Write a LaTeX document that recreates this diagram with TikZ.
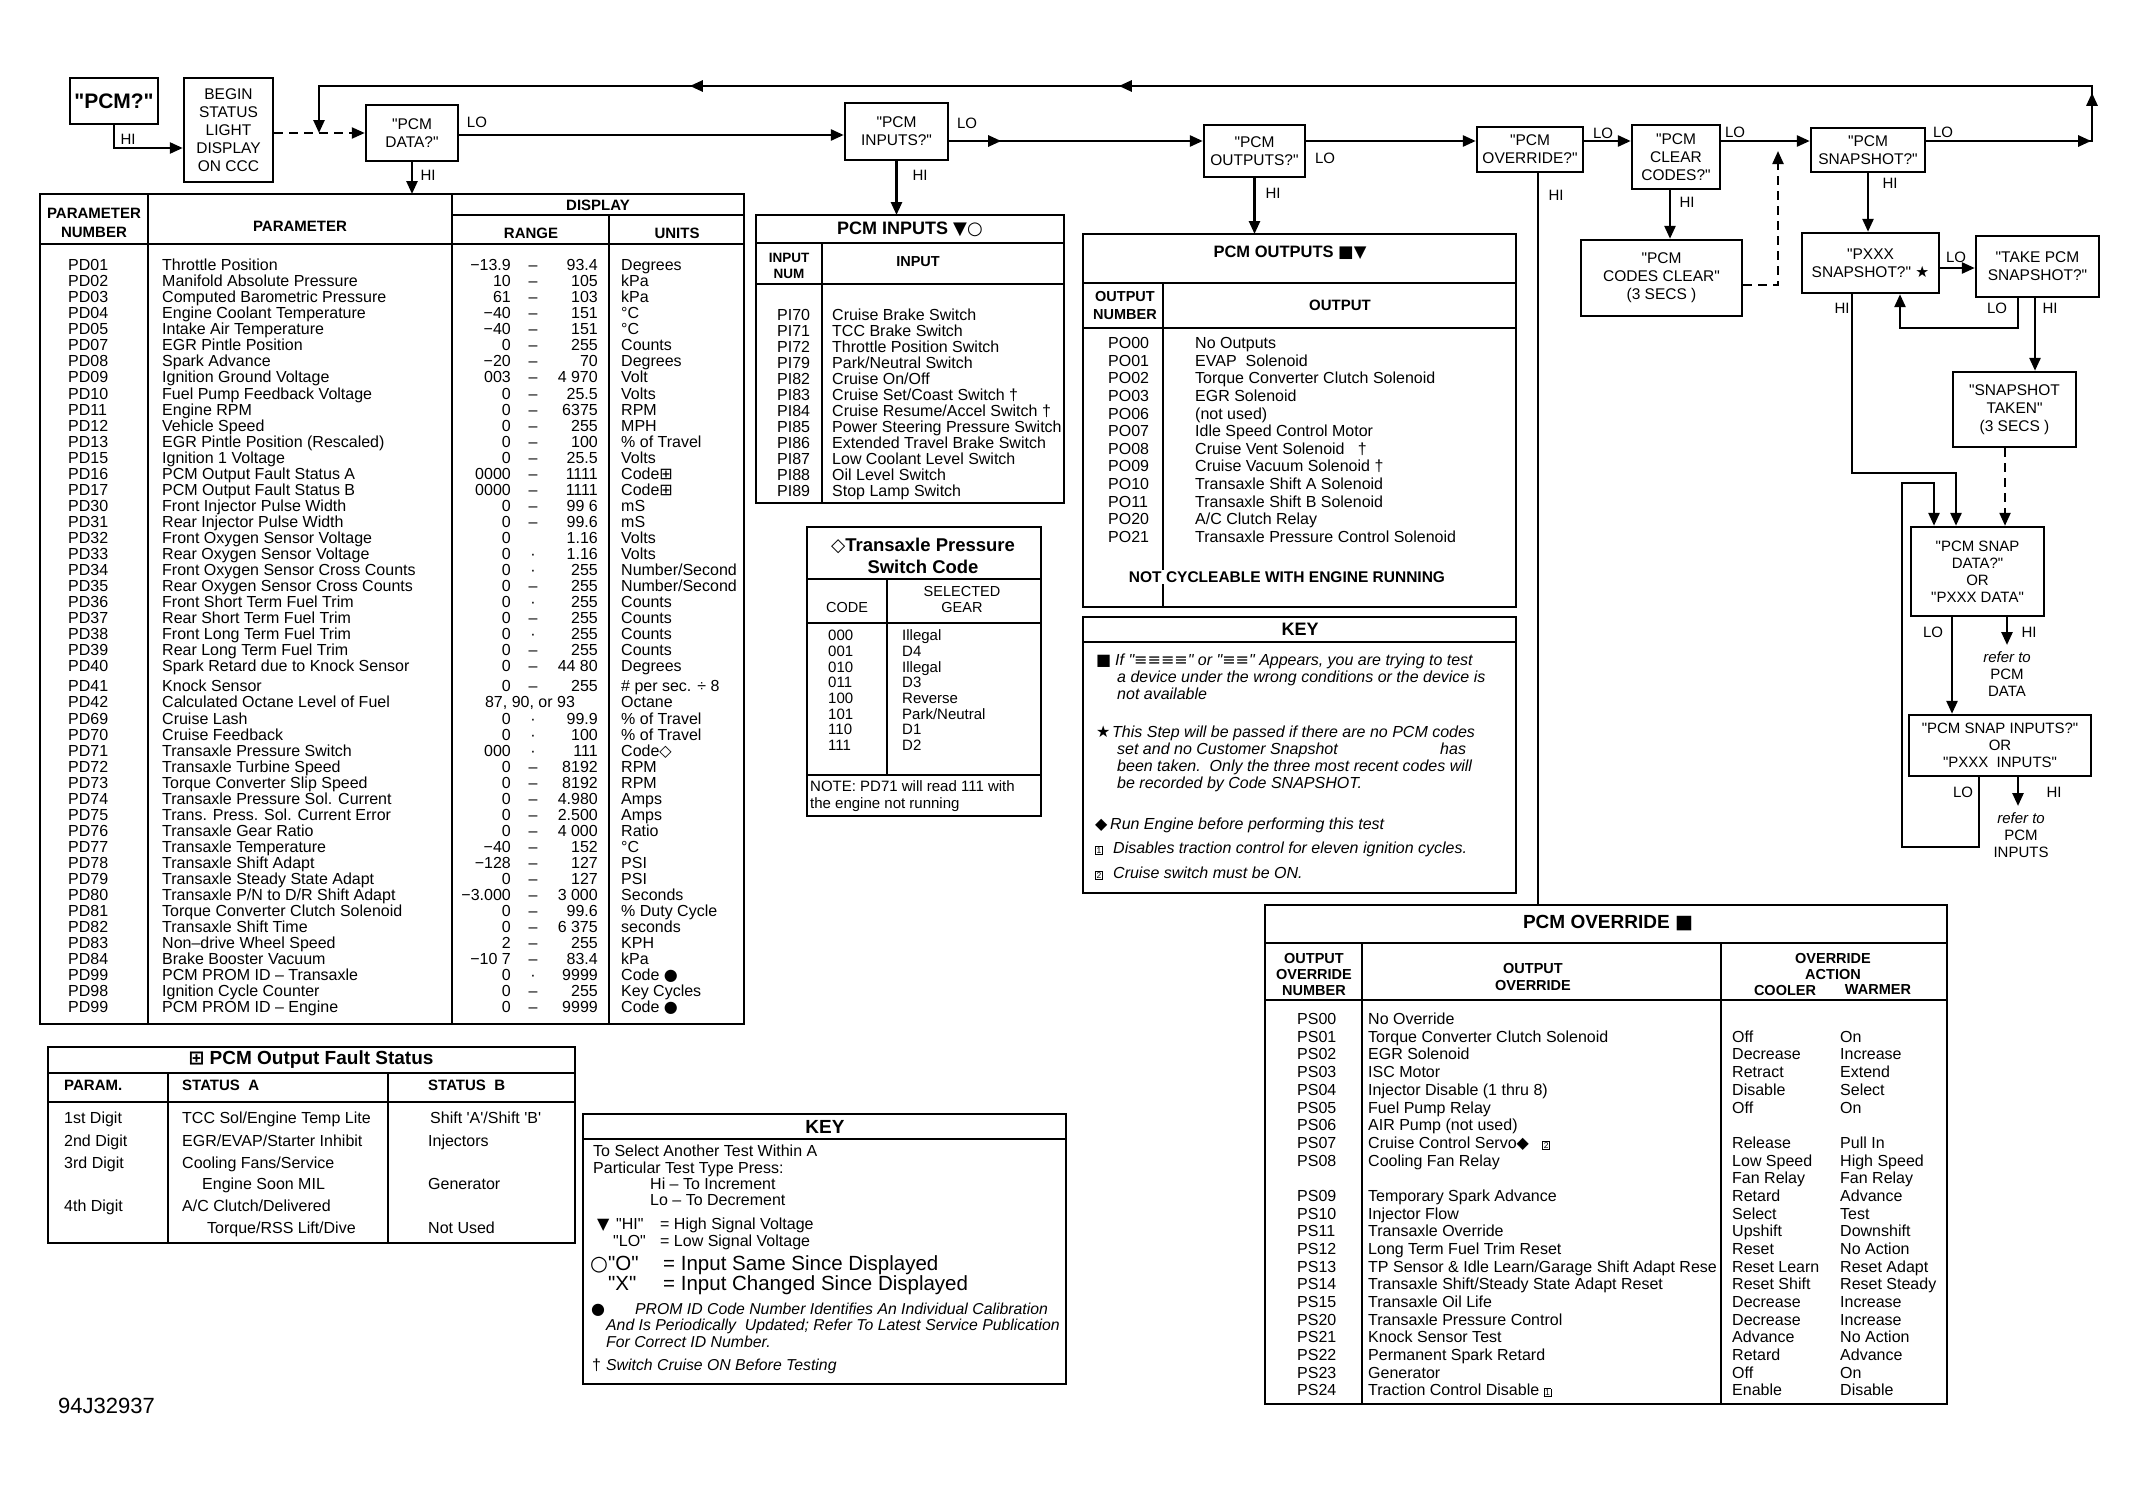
\documentclass[tikz,border=0pt]{standalone}
\usepackage{fontspec}
\setmainfont{Liberation Sans}
\newfontfamily\qf{Liberation Sans}
\newfontfamily\symf{DejaVu Sans}
\usetikzlibrary{arrows.meta,decorations.markings}
\newcommand\myfs[2]{\fontsize{#1}{#2}\selectfont}
\newcommand\symb[1]{{\symf #1}}
\newcommand\bxn[1]{{\setlength\fboxsep{0.6pt}\setlength\fboxrule{0.9pt}\fbox{\upshape\myfs{8.5}{8.5}#1}}}
\begin{document}
\qf
\begin{tikzpicture}[x=1pt,y=-1pt,
  flowbox/.style={draw,line width=2.4pt,align=center,inner sep=2pt,font=\myfs{15.5}{18}},
  lab/.style={inner sep=0,font=\myfs{15}{15}},
  ln/.style={line width=2.6pt},
  tip/.style={-{Triangle[length=13pt,width=11pt]}},
  arr/.style={ln,tip},
  dsh/.style={line width=2.2pt,dash pattern=on 9pt off 6pt},
  outer/.style={line width=2.6pt},
  div/.style={line width=1.8pt},
  tt/.style={inner sep=0,anchor=mid west,font=\myfs{16}{16}},
  hd/.style={inner sep=0,align=center,font=\bfseries\myfs{14.5}{18}},
  kt/.style={inner sep=0,anchor=mid west,font=\myfs{16}{16}},
  kti/.style={inner sep=0,anchor=mid west,font=\itshape\myfs{15.8}{16}},
  kb/.style={inner sep=0,anchor=mid west,font=\myfs{20.5}{20.5}},
]
\fill[white] (0,0) rectangle (2137,1496);
\useasboundingbox (0,0) rectangle (2137,1496);

% ---------------- flow boxes ----------------
\node[flowbox,line width=2.8pt,minimum width=88,minimum height=46,font=\bfseries\myfs{21}{22}] (pcmq) at (114,101) {"PCM?"};
\node[flowbox,minimum width=89,minimum height=104] (begin) at (228.5,130) {BEGIN\\STATUS\\LIGHT\\DISPLAY\\ON CCC};
\node[flowbox,minimum width=92,minimum height=56] (data) at (412,133) {"PCM\\DATA?"};
\node[flowbox,minimum width=103,minimum height=57] (inputs) at (896.5,131.5) {"PCM\\INPUTS?"};
\node[flowbox,minimum width=101,minimum height=52] (outputs) at (1254.5,151) {"PCM\\OUTPUTS?"};
\node[flowbox,minimum width=106,minimum height=45] (override) at (1530,149.5) {"PCM\\OVERRIDE?"};
\node[flowbox,minimum width=88,minimum height=64] (clear) at (1676,157) {"PCM\\CLEAR\\CODES?"};
\node[flowbox,minimum width=114,minimum height=44] (snap) at (1868,150) {"PCM\\SNAPSHOT?"};
\node[flowbox,minimum width=161,minimum height=76] (cclear) at (1661.5,278) {"PCM\\CODES CLEAR"\\(3 SECS )};
\node[flowbox,minimum width=137,minimum height=60] (pxxx) at (1870.5,263) {"PXXX\\SNAPSHOT?" \symb{★}};
\node[flowbox,minimum width=123,minimum height=61] (take) at (2037.5,266.5) {"TAKE PCM\\SNAPSHOT?"};
\node[flowbox,minimum width=123,minimum height=75] (taken) at (2014.5,409.5) {"SNAPSHOT\\TAKEN"\\(3 SECS )};
\node[flowbox,minimum width=133,minimum height=89,font=\myfs{15}{17}] (sdata) at (1977.5,571.5) {"PCM SNAP\\DATA?"\\OR\\"PXXX DATA"};
\node[flowbox,minimum width=182,minimum height=61,font=\myfs{15}{17}] (sinputs) at (2000,745.5) {"PCM SNAP INPUTS?"\\OR\\"PXXX\ \ INPUTS"};

% ---------------- coordinates ----------------
\coordinate (Y1) at (0,135);
\coordinate (Y2) at (0,141);
\coordinate (Yd) at (0,133);
\coordinate (Yb) at (0,148);
\coordinate (R1) at (2092,141);
\coordinate (Rtop) at (2092,86);
\coordinate (Ltop) at (319,86);
\coordinate (Ldash) at (319,133);
\coordinate (ptop) at (0,194);
\coordinate (itop) at (0,215);
\coordinate (otop) at (0,234);
\coordinate (ovx) at (1538,0);
\coordinate (ovtop) at (0,905);
\coordinate (cx) at (1670,0);
\coordinate (tx) at (2035,0);
\coordinate (tlx) at (2018,0);
\coordinate (plx) at (1900,0);
\coordinate (Ylo) at (0,328);
\coordinate (Yp) at (0,268);
\coordinate (Yc) at (0,285);
\coordinate (dx) at (1778,0);
\coordinate (Yup) at (0,151);
\coordinate (px2) at (1852,0);
\coordinate (Y473) at (0,473);
\coordinate (sx) at (1956,0);
\coordinate (tdx) at (2005,0);
\coordinate (lx0) at (1902,0);
\coordinate (lx1) at (1979,0);
\coordinate (lx2) at (1934,0);
\coordinate (Y483) at (0,483);
\coordinate (Y847) at (0,847);
\coordinate (lox) at (1952,0);
\coordinate (hix) at (2007,0);
\coordinate (rd) at (2007,645);
\coordinate (hix2) at (2018,0);
\coordinate (ri) at (2018,806);

% ---------------- connectors ----------------
\draw[arr] (pcmq.south) |- (begin.west |- Yb);
\draw[dsh,tip] (begin.east |- Yd) -- (data.west |- Yd);
\draw[arr] (data.east |- Y1) -- (inputs.west |- Y1);
\draw[arr,postaction={decorate},decoration={markings,mark=at position 52pt with {\arrow{Triangle[length=13pt,width=11pt]}}}]
  (inputs.east |- Y2) -- (outputs.west |- Y2);
\draw[arr] (outputs.east |- Y2) -- (override.west |- Y2);
\draw[arr] (override.east |- Y2) -- (clear.west |- Y2);
\draw[arr] (clear.east |- Y2) -- (snap.west |- Y2);
\draw[arr,postaction={decorate},decoration={markings,
   mark=at position 165pt with {\arrow{Triangle[length=13pt,width=11pt]}},
   mark=at position 214pt with {\arrow{Triangle[length=13pt,width=11pt]}},
   mark=at position 1194pt with {\arrow{Triangle[length=13pt,width=11pt]}},
   mark=at position 1623pt with {\arrow{Triangle[length=13pt,width=11pt]}}}]
  (snap.east |- Y2) -- (R1) -- (Rtop) -- (Ltop) -- (Ldash);
\draw[arr] (data.south) -- (data.south |- ptop);
\draw[arr] (inputs.south) -- (inputs.south |- itop);
\draw[arr] (outputs.south) -- (outputs.south |- otop);
\draw[ln] (override.south -| ovx) -- (ovx |- ovtop);
\draw[arr] (clear.south -| cx) -- (cclear.north -| cx);
\draw[arr] (snap.south) -- (pxxx.north -| snap.south);
\draw[dsh,tip] (cclear.east |- Yc) -- (dx |- Yc) -- (dx |- Yup);
\draw[arr] (pxxx.east |- Yp) -- (take.west |- Yp);
\draw[arr] (take.south -| tlx) -- (tlx |- Ylo) -- (plx |- Ylo) -- (pxxx.south -| plx);
\draw[arr] (take.south -| tx) -- (taken.north -| tx);
\draw[arr] (pxxx.south -| px2) -- (px2 |- Y473) -- (sx |- Y473) -- (sdata.north -| sx);
\draw[dsh,tip] (taken.south -| tdx) -- (sdata.north -| tdx);
\draw[arr] (sinputs.south -| lx1) -- (lx1 |- Y847) -- (lx0 |- Y847) -- (lx0 |- Y483) -- (lx2 |- Y483) -- (sdata.north -| lx2);
\draw[arr] (sdata.south -| lox) -- (sinputs.north -| lox);
\draw[arr] (sdata.south -| hix) -- (rd);
\draw[arr] (sinputs.south -| hix2) -- (ri);

% ---------------- HI / LO labels ----------------
\node[lab] (l1) at (128,139) {HI};
\node[lab] (l2) at (477,122) {LO};
\node[lab] (l3) at (428,175) {HI};
\node[lab] (l4) at (967,123) {LO};
\node[lab] (l5) at (920,175) {HI};
\node[lab] (l6) at (1325,158) {LO};
\node[lab] (l7) at (1273,193) {HI};
\node[lab] (l8) at (1603,133) {LO};
\node[lab] (l9) at (1556,195) {HI};
\node[lab] (l10) at (1735,132) {LO};
\node[lab] (l11) at (1687,202) {HI};
\node[lab] (l12) at (1943,132) {LO};
\node[lab] (l13) at (1890,183) {HI};
\node[lab] (l14) at (1956,257) {LO};
\node[lab] (l15) at (1842,308) {HI};
\node[lab] (l16) at (1997,308) {LO};
\node[lab] (l17) at (2050,308) {HI};
\node[lab] (l18) at (1933,632) {LO};
\node[lab] (l19) at (2029,632) {HI};
\node[lab] (l20) at (1963,792) {LO};
\node[lab] (l21) at (2054,792) {HI};
\node[lab,align=center,font=\myfs{15}{17}] (ref1) at (2007,674) {\textit{refer to}\\PCM\\DATA};
\node[lab,align=center,font=\myfs{15}{17}] (ref2) at (2021,835) {\textit{refer to}\\PCM\\INPUTS};

% ---------------- parameter table ----------------
\draw[outer] (40,194) rectangle (744,1024);
\draw[div] (452,215) -- (744,215);
\draw[outer] (40,244) -- (744,244);
\draw[div] (148,194) -- (148,1024);
\draw[div] (452,194) -- (452,1024);
\draw[div] (609,215) -- (609,1024);
\node[hd,font=\bfseries\myfs{15}{19}] (ph1) at (94,222.5) {PARAMETER\\NUMBER};
\node[hd,font=\bfseries\myfs{15}{19}] (ph2) at (300,226) {PARAMETER};
\node[hd,font=\bfseries\myfs{15}{19}] (ph3) at (598,205) {DISPLAY};
\node[hd,font=\bfseries\myfs{15}{19}] (ph4) at (531,233) {RANGE};
\node[hd,font=\bfseries\myfs{15}{19}] (ph5) at (677,233) {UNITS};
\foreach \na/\nb/\nc/\nd/\ne/\nf [count=\i from 0] in {
PD01/Throttle Position/−13.9/93.4/Degrees/–,
PD02/Manifold Absolute Pressure/10/105/kPa/–,
PD03/Computed Barometric Pressure/61/103/kPa/–,
PD04/Engine Coolant Temperature/−40/151/°C/–,
PD05/Intake Air Temperature/−40/151/°C/–,
PD07/EGR Pintle Position/0/255/Counts/–,
PD08/Spark Advance/−20/70/Degrees/–,
PD09/Ignition Ground Voltage/003/4 970/Volt/–,
PD10/Fuel Pump Feedback Voltage/0/25.5/Volts/–,
PD11/Engine RPM/0/6375/RPM/–,
PD12/Vehicle Speed/0/255/MPH/–,
PD13/EGR Pintle Position (Rescaled)/0/100/\% of Travel/–,
PD15/Ignition 1 Voltage/0/25.5/Volts/–,
PD16/PCM Output Fault Status A/0000/1111/Code\symb{⊞}/–,
PD17/PCM Output Fault Status B/0000/1111/Code\symb{⊞}/–,
PD30/Front Injector Pulse Width/0/99 6/mS/–,
PD31/Rear Injector Pulse Width/0/99.6/mS/–,
PD32/Front Oxygen Sensor Voltage/0/1.16/Volts/{},
PD33/Rear Oxygen Sensor Voltage/0/1.16/Volts/·,
PD34/Front Oxygen Sensor Cross Counts/0/255/{Number/Second}/·,
PD35/Rear Oxygen Sensor Cross Counts/0/255/{Number/Second}/–,
PD36/Front Short Term Fuel Trim/0/255/Counts/·,
PD37/Rear Short Term Fuel Trim/0/255/Counts/–,
PD38/Front Long Term Fuel Trim/0/255/Counts/·,
PD39/Rear Long Term Fuel Trim/0/255/Counts/–,
PD40/Spark Retard due to Knock Sensor/0/44 80/Degrees/–,
PD41/Knock Sensor/0/255/\# per sec. ÷ 8/–,
PD42/Calculated Octane Level of Fuel/{}/{}/Octane/{},
PD69/Cruise Lash/0/99.9/\% of Travel/·,
PD70/Cruise Feedback/0/100/\% of Travel/·,
PD71/Transaxle Pressure Switch/000/111/Code\symb{◇}/·,
PD72/Transaxle Turbine Speed/0/8192/RPM/–,
PD73/Torque Converter Slip Speed/0/8192/RPM/–,
PD74/Transaxle Pressure Sol. Current/0/4.980/Amps/–,
PD75/Trans. Press. Sol. Current Error/0/2.500/Amps/–,
PD76/Transaxle Gear Ratio/0/4 000/Ratio/–,
PD77/Transaxle Temperature/−40/152/°C/–,
PD78/Transaxle Shift Adapt/−128/127/PSI/–,
PD79/Transaxle Steady State Adapt/0/127/PSI/–,
PD80/{Transaxle P/N to D/R Shift Adapt}/−3.000/3 000/Seconds/–,
PD81/Torque Converter Clutch Solenoid/0/99.6/\% Duty Cycle/–,
PD82/Transaxle Shift Time/0/6 375/seconds/–,
PD83/Non–drive Wheel Speed/2/255/KPH/–,
PD84/Brake Booster Vacuum/−10 7/83.4/kPa/–,
PD99/PCM PROM ID – Transaxle/0/9999/Code \symb{●}/·,
PD98/Ignition Cycle Counter/0/255/Key Cycles/–,
PD99/PCM PROM ID – Engine/0/9999/Code \symb{●}/–}{
  \pgfmathsetmacro\yy{268+16.05*\i+(\i>25)*4}
  \node[tt] (pn\i) at (68,\yy) {\na};
  \node[tt] (pp\i) at (162,\yy) {\nb};
  \node[tt,anchor=mid east] (pl\i) at (511,\yy) {\nc};
  \node[tt,anchor=mid] (pd\i) at (533,\yy) {\nf};
  \node[tt,anchor=mid east] (ph\i) at (598,\yy) {\nd};
  \node[tt] (pu\i) at (621,\yy) {\ne};
}
\node[tt,anchor=mid] (p42r) at (530,705.35) {87, 90, or 93};

% ---------------- PCM inputs table ----------------
\draw[outer] (756,215) rectangle (1064,503);
\draw[outer] (756,243) -- (1064,243);
\draw[div] (756,284) -- (1064,284);
\draw[div] (822,243) -- (822,503);
\node[hd,font=\bfseries\myfs{18}{20}] (it) at (910,229) {PCM INPUTS \symb{▼○}};
\node[hd,font=\bfseries\myfs{13.5}{16}] (ih1) at (789,266) {INPUT\\NUM};
\node[hd] (ih2) at (918,262) {INPUT};
\foreach \na/\nb [count=\i from 0] in {
PI70/Cruise Brake Switch, PI71/TCC Brake Switch, PI72/Throttle Position Switch,
PI79/{Park/Neutral Switch}, PI82/{Cruise On/Off}, PI83/{Cruise Set/Coast Switch †},
PI84/{Cruise Resume/Accel Switch †}, PI85/Power Steering Pressure Switch,
PI86/Extended Travel Brake Switch, PI87/Low Coolant Level Switch,
PI88/Oil Level Switch, PI89/Stop Lamp Switch}{
  \pgfmathsetmacro\yy{318+16*\i}
  \node[tt] (in\i) at (777,\yy) {\na};
  \node[tt] (it\i) at (832,\yy) {\nb};
}

% ---------------- Transaxle pressure switch code ----------------
\draw[outer] (807,527) rectangle (1041,816);
\draw[outer] (807,579) -- (1041,579);
\draw[div] (807,623) -- (1041,623);
\draw[div] (887,579) -- (887,775);
\draw[div] (807,775) -- (1041,775);
\node[hd,font=\bfseries\myfs{18.5}{22}] (tt1) at (923,556) {\symb{◇}Transaxle Pressure\\Switch Code};
\node[hd,font=\myfs{14.5}{16}] (th1) at (847,608) {CODE};
\node[hd,font=\myfs{14.5}{16}] (th2) at (962,600) {SELECTED\\GEAR};
\foreach \na/\nb [count=\i from 0] in {000/Illegal, 001/D4, 010/Illegal, 011/D3, 100/Reverse, 101/{Park/Neutral}, 110/D1, 111/D2}{
  \pgfmathsetmacro\yy{638+15.7*\i}
  \node[tt,font=\myfs{15}{16}] (tc\i) at (828,\yy) {\na};
  \node[tt,font=\myfs{15}{16}] (tg\i) at (902,\yy) {\nb};
}
\node[tt,font=\myfs{15}{16}] (tn1) at (810,789) {NOTE: PD71 will read 111 with};
\node[tt,font=\myfs{15}{16}] (tn2) at (810,806) {the engine not running};

% ---------------- PCM outputs table ----------------
\draw[outer] (1083,234) rectangle (1516,607);
\draw[outer] (1083,283) -- (1516,283);
\draw[outer] (1083,328) -- (1516,328);
\draw[div] (1163,283) -- (1163,607);
\node[hd,font=\bfseries\myfs{16.5}{18}] (ot) at (1290,253) {PCM OUTPUTS \symb{■▼}};
\node[hd] (oh1) at (1125,306) {OUTPUT\\NUMBER};
\node[hd,font=\bfseries\myfs{15}{18}] (oh2) at (1340,305) {OUTPUT};
\foreach \na/\nb [count=\i from 0] in {
PO00/No Outputs, PO01/EVAP\ \ Solenoid, PO02/Torque Converter Clutch Solenoid,
PO03/EGR Solenoid, PO06/(not used), PO07/Idle Speed Control Motor,
PO08/Cruise Vent Solenoid\ \ \ †, PO09/Cruise Vacuum Solenoid †,
PO10/Transaxle Shift A Solenoid, PO11/Transaxle Shift B Solenoid,
PO20/{A/C Clutch Relay}, PO21/Transaxle Pressure Control Solenoid}{
  \pgfmathsetmacro\yy{346+17.6*\i}
  \node[tt] (on\i) at (1108,\yy) {\na};
  \node[tt] (ox\i) at (1195,\yy) {\nb};
}
\node[fill=white,inner sep=2pt,font=\bfseries\myfs{15.5}{16}] (onc) at (1287,577) {NOT CYCLEABLE WITH ENGINE RUNNING};

% ---------------- KEY (right) ----------------
\draw[outer] (1083,617) rectangle (1516,893);
\draw[div] (1083,642) -- (1516,642);
\node[hd,font=\bfseries\myfs{18}{18}] (kk) at (1300,629) {KEY};
\node[kt] (k1) at (1096,663) {\symb{■}};
\node[kti,font=\itshape\myfs{16}{16}] (k1b) at (1115,663) {If "\symb{≡≡≡≡}" or "\symb{≡≡}" Appears, you are trying to test};
\node[kti,font=\itshape\myfs{16}{16}] (k2) at (1117,680) {a device under the wrong conditions or the device is};
\node[kti,font=\itshape\myfs{16}{16}] (k3) at (1117,697) {not available};
\node[kt] (k4) at (1096,735) {\symb{★}};
\node[kti,font=\itshape\myfs{16}{16}] (k4b) at (1112,735) {This Step will be passed if there are no PCM codes};
\node[kti,font=\itshape\myfs{16}{16}] (k5) at (1117,752) {set and no Customer Snapshot};
\node[kti,font=\itshape\myfs{16}{16}] (k5b) at (1440,752) {has};
\node[kti,font=\itshape\myfs{16}{16}] (k6) at (1117,769) {been taken.\ \ Only the three most recent codes will};
\node[kti,font=\itshape\myfs{16}{16}] (k7) at (1117,786) {be recorded by Code SNAPSHOT.};
\node[kt] (k8) at (1095,827) {\symb{◆}};
\node[kti,font=\itshape\myfs{16}{16}] (k8b) at (1110,827) {Run Engine before performing this test};
\node[kt] (k9) at (1095,851) {\bxn{1}};
\node[kti,font=\itshape\myfs{16}{16}] (k9b) at (1113,851) {Disables traction control for eleven ignition cycles.};
\node[kt] (k10) at (1095,876) {\bxn{2}};
\node[kti,font=\itshape\myfs{16}{16}] (k10b) at (1113,876) {Cruise switch must be ON.};

% ---------------- PCM override table ----------------
\draw[outer] (1265,905) rectangle (1947,1404);
\draw[outer] (1265,943) -- (1947,943);
\draw[outer] (1265,1000) -- (1947,1000);
\draw[div] (1362,943) -- (1362,1404);
\draw[div] (1721,943) -- (1721,1404);
\node[hd,font=\bfseries\myfs{19}{20}] (vt) at (1608,923) {PCM OVERRIDE \symb{■}};
\node[hd,font=\bfseries\myfs{14.5}{16}] (vh1) at (1314,974) {OUTPUT\\OVERRIDE\\NUMBER};
\node[hd,font=\bfseries\myfs{14.5}{17}] (vh2) at (1533,977) {OUTPUT\\OVERRIDE};
\node[hd,font=\bfseries\myfs{14.5}{16}] (vh3) at (1833,966) {OVERRIDE\\ACTION};
\node[hd,font=\bfseries\myfs{14.5}{16}] (vh4) at (1785,990) {COOLER};
\node[hd,font=\bfseries\myfs{14.5}{16}] (vh5) at (1878,990) {WARMER};
\foreach \na/\nb/\nc/\nd [count=\i from 0] in {
PS00/No Override/{}/{},
PS01/Torque Converter Clutch Solenoid/Off/On,
PS02/EGR Solenoid/Decrease/Increase,
PS03/ISC Motor/Retract/Extend,
PS04/Injector Disable (1 thru 8)/Disable/Select,
PS05/Fuel Pump Relay/Off/On,
PS06/AIR Pump (not used)/{}/{},
PS07/Cruise Control Servo\symb{◆}\ \ \ \bxn{2}/Release/Pull In,
PS08/Cooling Fan Relay/Low Speed/High Speed,
{}/{}/Fan Relay/Fan Relay,
PS09/Temporary Spark Advance/Retard/Advance,
PS10/Injector Flow/Select/Test,
PS11/Transaxle Override/Upshift/Downshift,
PS12/Long Term Fuel Trim Reset/Reset/No Action,
PS13/{TP Sensor \& Idle Learn/Garage Shift Adapt Rese}/Reset Learn/Reset Adapt,
PS14/{Transaxle Shift/Steady State Adapt Reset}/Reset Shift/Reset Steady,
PS15/Transaxle Oil Life/Decrease/Increase,
PS20/Transaxle Pressure Control/Decrease/Increase,
PS21/Knock Sensor Test/Advance/No Action,
PS22/Permanent Spark Retard/Retard/Advance,
PS23/Generator/Off/On,
PS24/Traction Control Disable \bxn{1}/Enable/Disable}{
  \pgfmathsetmacro\yy{1022+17.67*\i}
  \node[tt] (vn\i) at (1297,\yy) {\na};
  \node[tt] (vx\i) at (1368,\yy) {\nb};
  \node[tt] (vc\i) at (1732,\yy) {\nc};
  \node[tt] (vw\i) at (1840,\yy) {\nd};
}

% ---------------- PCM output fault status ----------------
\draw[outer] (48,1047) rectangle (575,1243);
\draw[outer] (48,1073) -- (575,1073);
\draw[div] (48,1102) -- (575,1102);
\draw[div] (168,1073) -- (168,1243);
\draw[div] (388,1073) -- (388,1243);
\node[hd,font=\bfseries\myfs{19}{19}] (ft) at (311,1060) {\symb{⊞} PCM Output Fault Status};
\node[tt,font=\bfseries\myfs{15}{16}] (fh1) at (64,1088) {PARAM.};
\node[tt,font=\bfseries\myfs{15}{16}] (fh2) at (182,1088) {STATUS\ \ A};
\node[tt,font=\bfseries\myfs{15}{16}] (fh3) at (428,1088) {STATUS\ \ B};
\node[tt] (f11) at (64,1121) {1st Digit};
\node[tt] (f12) at (182,1121) {TCC Sol/Engine Temp Lite};
\node[tt] (f13) at (430,1121) {Shift 'A'/Shift 'B'};
\node[tt] (f21) at (64,1144) {2nd Digit};
\node[tt] (f22) at (182,1144) {EGR/EVAP/Starter Inhibit};
\node[tt] (f23) at (428,1144) {Injectors};
\node[tt] (f31) at (64,1166) {3rd Digit};
\node[tt] (f32) at (182,1166) {Cooling Fans/Service};
\node[tt] (f42) at (202,1187) {Engine Soon MIL};
\node[tt] (f43) at (428,1187) {Generator};
\node[tt] (f51) at (64,1209) {4th Digit};
\node[tt] (f52) at (182,1209) {A/C Clutch/Delivered};
\node[tt] (f62) at (207,1231) {Torque/RSS Lift/Dive};
\node[tt] (f63) at (428,1231) {Not Used};

% ---------------- KEY (bottom) ----------------
\draw[outer] (583,1114) rectangle (1066,1384);
\draw[div] (583,1139) -- (1066,1139);
\node[hd,font=\bfseries\myfs{19}{19}] (bk) at (825,1127) {KEY};
\node[kt] (b1) at (593,1154) {To Select Another Test Within A};
\node[kt] (b2) at (593,1171) {Particular Test Type Press:};
\node[kt] (b3) at (650,1187) {Hi – To Increment};
\node[kt] (b4) at (650,1203) {Lo – To Decrement};
\node[kt] (b5) at (597,1227) {\symb{▼}};
\node[kt] (b5b) at (616,1227) {"HI"};
\node[kt] (b5c) at (660,1227) {= High Signal Voltage};
\node[kt] (b6) at (613,1244) {"LO"};
\node[kt] (b6c) at (660,1244) {= Low Signal Voltage};
\node[kb] (b7) at (590,1268) {\symb{○}"O"};
\node[kb] (b7c) at (663,1268) {= Input Same Since Displayed};
\node[kb] (b8) at (608,1288) {"X"};
\node[kb] (b8c) at (663,1288) {= Input Changed Since Displayed};
\node[kt] (b9) at (591,1312) {\symb{●}};
\node[kti] (b9b) at (635,1312) {PROM ID Code Number Identifies An Individual Calibration};
\node[kti] (b10) at (606,1328) {And Is Periodically\ \ Updated; Refer To Latest Service Publication};
\node[kti] (b11) at (606,1345) {For Correct ID Number.};
\node[kt] (b12) at (592,1368) {†};
\node[kti] (b12b) at (606,1368) {Switch Cruise ON Before Testing};

% ---------------- figure id ----------------
\node[kt,font=\myfs{22}{22}] (fig) at (58,1411) {94J32937};
\end{tikzpicture}
\end{document}
